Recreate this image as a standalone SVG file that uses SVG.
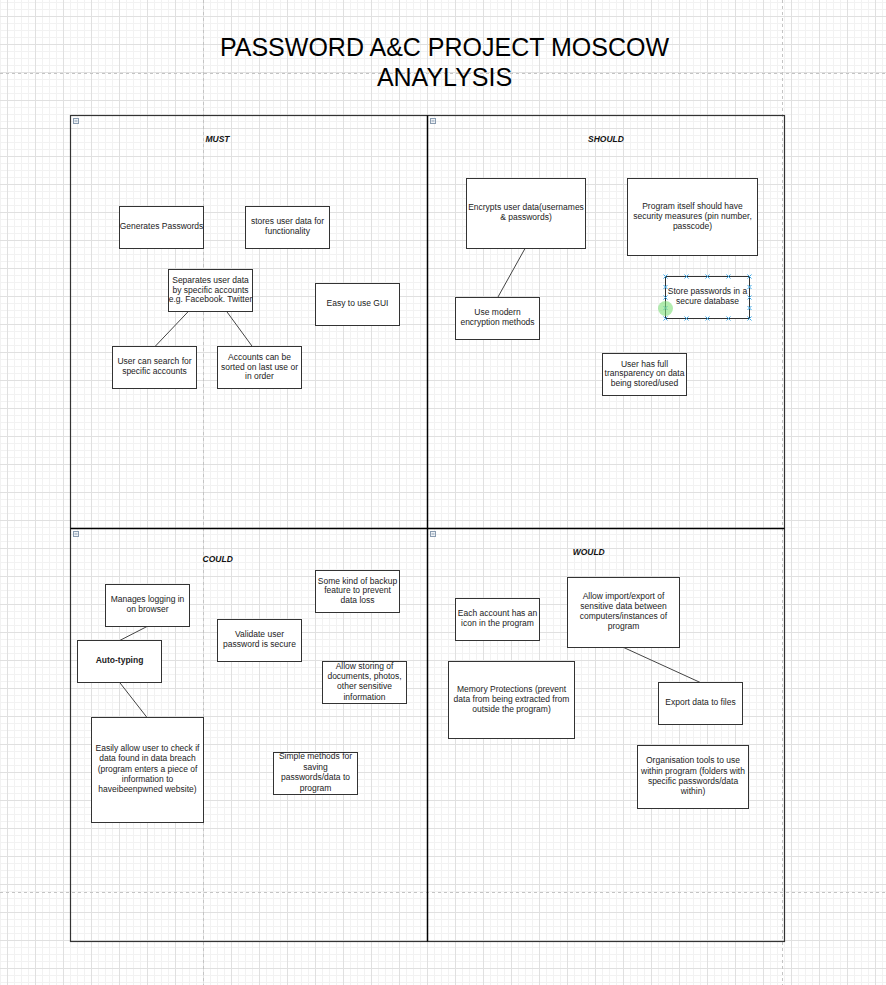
<svg xmlns="http://www.w3.org/2000/svg" width="886" height="985" viewBox="0 0 886 985">
<style>
.n rect{fill:#fff;stroke:#333;stroke-width:1}
.t{font-family:"Liberation Sans",Arial,sans-serif;font-size:8.5px;fill:#222;text-anchor:middle}
.b{font-weight:bold}
.lab{font-family:"Liberation Sans",Arial,sans-serif;font-size:8.5px;font-weight:bold;font-style:italic;fill:#111;text-anchor:middle}
.title{font-family:"Liberation Sans",Arial,sans-serif;font-size:25px;fill:#000;text-anchor:middle}
.pb{stroke:#c4c4c4;stroke-width:1;stroke-dasharray:3 3;fill:none}
.ic{fill:#eef2f6;stroke:#8a9cb0;stroke-width:1}
.mk{stroke:#3da8e8;stroke-width:1}
#connectors line{stroke:#444;stroke-width:1}
</style>
<defs>
<pattern id="minor" width="7" height="7" patternUnits="userSpaceOnUse" x="7" y="16">
<path d="M0 0.5H7M0.5 0V7" stroke="#f2f2f2" stroke-width="1" fill="none"/>
</pattern>
<pattern id="major" width="28" height="28" patternUnits="userSpaceOnUse" x="7" y="16">
<path d="M0 0.5H28M0.5 0V28" stroke="#e0e0e0" stroke-width="1" fill="none"/>
</pattern>
<g id="x"><path d="M-2 -2L2 2M-2 2L2 -2" class="mk"/></g>
</defs>
<rect width="886" height="985" fill="#fff"/>
<rect width="886" height="985" fill="url(#minor)"/>
<rect width="886" height="985" fill="url(#major)"/>
<line class="pb" x1="203.5" y1="0" x2="203.5" y2="985"/>
<line class="pb" x1="782.5" y1="0" x2="782.5" y2="985"/>
<line class="pb" x1="0" y1="73.5" x2="886" y2="73.5"/>
<line class="pb" x1="0" y1="892.5" x2="886" y2="892.5"/>

<g id="title">
<text class="title" x="444.5" y="56">PASSWORD A&amp;C PROJECT MOSCOW</text>
<text class="title" x="444.5" y="86">ANAYLYSIS</text>
</g>

<g id="frame">
<rect x="70.5" y="115.5" width="714" height="826" fill="none" stroke="#333" stroke-width="1.2"/>
<line x1="427.5" y1="115.5" x2="427.5" y2="941.5" stroke="#000" stroke-width="1.5"/>
<line x1="70.5" y1="528.5" x2="784.5" y2="528.5" stroke="#000" stroke-width="1.5"/>
<rect class="ic" x="73.5" y="118.5" width="5" height="5"/><line x1="74.5" y1="121" x2="77.5" y2="121" stroke="#8a9cb0"/>
<rect class="ic" x="430.5" y="118.5" width="5" height="5"/><line x1="431.5" y1="121" x2="434.5" y2="121" stroke="#8a9cb0"/>
<rect class="ic" x="73.5" y="531.5" width="5" height="5"/><line x1="74.5" y1="534" x2="77.5" y2="534" stroke="#8a9cb0"/>
<rect class="ic" x="430.5" y="531.5" width="5" height="5"/><line x1="431.5" y1="534" x2="434.5" y2="534" stroke="#8a9cb0"/>
<text class="lab" x="217.5" y="142">MUST</text>
<text class="lab" x="606" y="142">SHOULD</text>
<text class="lab" x="217.7" y="562">COULD</text>
<text class="lab" x="588.7" y="555">WOULD</text>
</g>

<g id="connectors">
<line x1="188.3" y1="311.5" x2="155" y2="346.5"/>
<line x1="226.7" y1="311.5" x2="252.3" y2="346.5"/>
<line x1="525" y1="248.5" x2="497.7" y2="297.5"/>
<line x1="147" y1="626.5" x2="119.7" y2="640.5"/>
<line x1="119.7" y1="682.5" x2="147" y2="717.5"/>
<line x1="623.7" y1="647.5" x2="700.3" y2="682.5"/>
</g>

<!-- MUST -->
<g id="gen" class="n"><rect x="119.5" y="206.5" width="84" height="42"/>
<text class="t" x="161.5" y="229">Generates Passwords</text></g>
<g id="stores" class="n"><rect x="245.5" y="206.5" width="84" height="42"/>
<text class="t" x="287.5" y="224">stores user data for</text><text class="t" x="287.5" y="234">functionality</text></g>
<g id="separates" class="n"><rect x="168.5" y="269.5" width="84" height="42"/>
<text class="t" x="210.5" y="283">Separates user data</text><text class="t" x="210.5" y="292.7">by specific accounts</text><text class="t" x="210.5" y="302.4">e.g. Facebook. Twitter</text></g>
<g id="gui" class="n"><rect x="315.5" y="283.5" width="84" height="42"/>
<text class="t" x="357.5" y="305.7">Easy to use GUI</text></g>
<g id="search" class="n"><rect x="112.5" y="346.5" width="84" height="42"/>
<text class="t" x="154.5" y="363.7">User can search for</text><text class="t" x="154.5" y="373.7">specific accounts</text></g>
<g id="sorted" class="n"><rect x="217.5" y="346.5" width="84" height="42"/>
<text class="t" x="259.5" y="360">Accounts can be</text><text class="t" x="259.5" y="369.5">sorted on last use or</text><text class="t" x="259.5" y="379">in order</text></g>

<!-- SHOULD -->
<g id="encrypts" class="n"><rect x="466.5" y="178.5" width="119" height="70"/>
<text class="t" x="526" y="210.3">Encrypts user data(usernames</text><text class="t" x="526" y="220.3">&amp; passwords)</text></g>
<g id="security" class="n"><rect x="627.5" y="178.5" width="130" height="77"/>
<text class="t" x="692.5" y="209">Program itself should have</text><text class="t" x="692.5" y="219">security measures (pin number,</text><text class="t" x="692.5" y="229.3">passcode)</text></g>
<g id="store" class="n"><rect x="665.5" y="276.5" width="84" height="42"/>
<text class="t" x="707.5" y="294">Store passwords in a</text><text class="t" x="707.5" y="303.7">secure database</text>
<use href="#x" x="665.5" y="276.5"/><use href="#x" x="686.5" y="276.5"/><use href="#x" x="707.5" y="276.5"/><use href="#x" x="728.5" y="276.5"/><use href="#x" x="749.5" y="276.5"/>
<use href="#x" x="665.5" y="318.5"/><use href="#x" x="686.5" y="318.5"/><use href="#x" x="707.5" y="318.5"/><use href="#x" x="728.5" y="318.5"/><use href="#x" x="749.5" y="318.5"/>
<use href="#x" x="665.5" y="287"/><use href="#x" x="665.5" y="297.5"/><use href="#x" x="665.5" y="308"/>
<use href="#x" x="749.5" y="287"/><use href="#x" x="749.5" y="297.5"/><use href="#x" x="749.5" y="308"/>
<circle cx="665.5" cy="308.5" r="7.5" fill="#7ee07a" fill-opacity="0.6" stroke="none"/></g>
<g id="modern" class="n"><rect x="455.5" y="297.5" width="84" height="42"/>
<text class="t" x="497.5" y="314.7">Use modern</text><text class="t" x="497.5" y="324.7">encryption methods</text></g>
<g id="transparency" class="n"><rect x="602.5" y="353.5" width="84" height="42"/>
<text class="t" x="644.5" y="366.7">User has full</text><text class="t" x="644.5" y="376.3">transparency on data</text><text class="t" x="644.5" y="386">being stored/used</text></g>

<!-- COULD -->
<g id="manages" class="n"><rect x="105.5" y="584.5" width="84" height="42"/>
<text class="t" x="147.5" y="601.7">Manages logging in</text><text class="t" x="147.5" y="611.7">on browser</text></g>
<g id="autotyping" class="n"><rect x="77.5" y="640.5" width="84" height="42"/>
<text class="t b" x="119.5" y="663">Auto-typing</text></g>
<g id="easily" class="n"><rect x="91.5" y="717.5" width="112" height="105"/>
<text class="t" x="147.5" y="751.3">Easily allow user to check if</text><text class="t" x="147.5" y="761.3">data found in data breach</text><text class="t" x="147.5" y="771.7">(program enters a piece of</text><text class="t" x="147.5" y="782">information to</text><text class="t" x="147.5" y="792.3">haveibeenpwned website)</text></g>
<g id="validate" class="n"><rect x="217.5" y="619.5" width="84" height="42"/>
<text class="t" x="259.5" y="636.7">Validate user</text><text class="t" x="259.5" y="646.7">password is secure</text></g>
<g id="backup" class="n"><rect x="315.5" y="570.5" width="84" height="42"/>
<text class="t" x="357.5" y="583.7">Some kind of backup</text><text class="t" x="357.5" y="593">feature to prevent</text><text class="t" x="357.5" y="602.7">data loss</text></g>
<g id="storing" class="n"><rect x="322.5" y="661.5" width="84" height="42"/>
<text class="t" x="364.5" y="668.7">Allow storing of</text><text class="t" x="364.5" y="678.7">documents, photos,</text><text class="t" x="364.5" y="689">other sensitive</text><text class="t" x="364.5" y="699.7">information</text></g>
<g id="simple" class="n"><rect x="273.5" y="752.5" width="84" height="42"/>
<text class="t" x="315.5" y="759.3">Simple methods for</text><text class="t" x="315.5" y="769.7">saving</text><text class="t" x="315.5" y="780">passwords/data to</text><text class="t" x="315.5" y="790.7">program</text></g>

<!-- WOULD -->
<g id="icon" class="n"><rect x="455.5" y="598.5" width="84" height="42"/>
<text class="t" x="497.5" y="616">Each account has an</text><text class="t" x="497.5" y="626">icon in the program</text></g>
<g id="import" class="n"><rect x="567.5" y="577.5" width="112" height="70"/>
<text class="t" x="623.5" y="598.7">Allow import/export of</text><text class="t" x="623.5" y="608.7">sensitive data between</text><text class="t" x="623.5" y="619">computers/instances of</text><text class="t" x="623.5" y="629.3">program</text></g>
<g id="memory" class="n"><rect x="448.5" y="661.5" width="126" height="77"/>
<text class="t" x="511.5" y="692">Memory Protections (prevent</text><text class="t" x="511.5" y="701.7">data from being extracted from</text><text class="t" x="511.5" y="712">outside the program)</text></g>
<g id="export" class="n"><rect x="658.5" y="682.5" width="84" height="42"/>
<text class="t" x="700.5" y="704.7">Export data to files</text></g>
<g id="org" class="n"><rect x="637.5" y="745.5" width="111" height="63"/>
<text class="t" x="693" y="763">Organisation tools to use</text><text class="t" x="693" y="774">within program (folders with</text><text class="t" x="693" y="784.3">specific passwords/data</text><text class="t" x="693" y="794">within)</text></g>
</svg>
